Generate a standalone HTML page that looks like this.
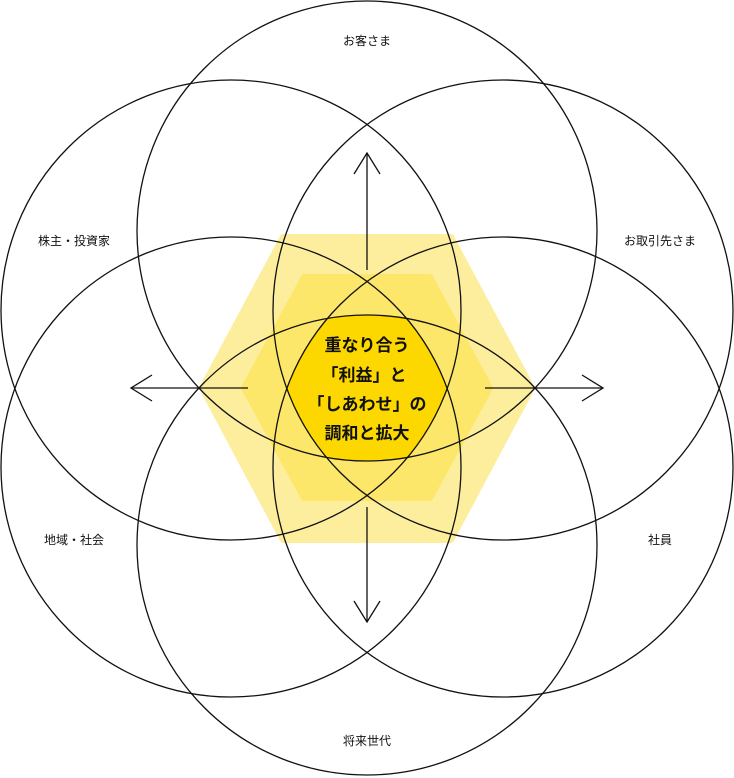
<!DOCTYPE html>
<html><head><meta charset="utf-8"><style>
html,body{margin:0;padding:0;background:#fff;}
svg{display:block;}
text{font-family:"Liberation Sans","Noto Sans CJK JP",sans-serif;}
</style></head><body>
<svg width="734" height="778" viewBox="0 0 734 778" xmlns="http://www.w3.org/2000/svg">
<defs>
<clipPath id="c1"><circle cx="367" cy="231" r="230"/></clipPath>
<clipPath id="c2"><circle cx="367" cy="545" r="230" clip-path="url(#c1)"/></clipPath>
<clipPath id="c3"><circle cx="231" cy="310" r="230" clip-path="url(#c2)"/></clipPath>
<clipPath id="c4"><circle cx="503" cy="310" r="230" clip-path="url(#c3)"/></clipPath>
<clipPath id="c5"><circle cx="231" cy="467" r="230" clip-path="url(#c4)"/></clipPath>
</defs>
<polygon points="202,388 283,237 451,237 532,388 451,540 283,540" fill="#fdee9e" stroke="#fdee9e" stroke-width="6" stroke-linejoin="round"/>
<polygon points="244,388 304,277 430,277 490,388 430,498 304,498" fill="#fde76a" stroke="#fde76a" stroke-width="6" stroke-linejoin="round"/>
<circle cx="503" cy="467" r="230" fill="#fcd800" clip-path="url(#c5)"/>
<g fill="none" stroke="#111" stroke-width="1.3">
<circle cx="367" cy="231" r="230"/>
<circle cx="367" cy="545" r="230"/>
<circle cx="231" cy="310" r="230"/>
<circle cx="503" cy="310" r="230"/>
<circle cx="231" cy="467" r="230"/>
<circle cx="503" cy="467" r="230"/>
<line x1="367" y1="153" x2="367" y2="270"/>
<polyline points="354,174 367,153 380,174"/>
<line x1="367" y1="507" x2="367" y2="622"/>
<polyline points="354,601 367,622 380,601"/>
<line x1="131" y1="388" x2="248" y2="388"/>
<polyline points="152,375 131,388 152,401"/>
<line x1="485" y1="388" x2="603" y2="388"/>
<polyline points="582,375 603,388 582,401"/>
</g>
<g font-size="17" font-weight="bold" fill="#111" text-anchor="middle">
<text x="367" y="351">重なり合う</text>
<text x="364" y="381">「利益」と</text>
<text x="367" y="410">「しあわせ」の</text>
<text x="367" y="439">調和と拡大</text>
</g>
<g font-size="12" fill="#111" text-anchor="middle">
<text x="367" y="45">お客さま</text>
<text x="74" y="245">株主・投資家</text>
<text x="660" y="245">お取引先さま</text>
<text x="74" y="544">地域・社会</text>
<text x="660" y="544">社員</text>
<text x="367" y="745">将来世代</text>
</g>
</svg>
</body></html>
